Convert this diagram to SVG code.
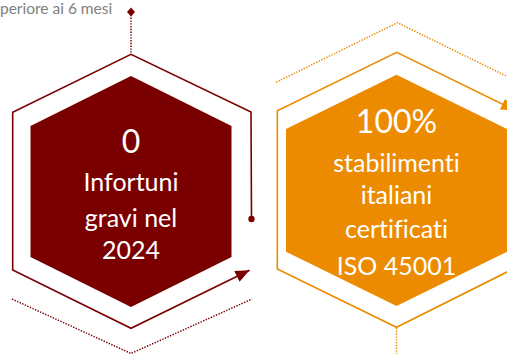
<svg xmlns="http://www.w3.org/2000/svg" width="507" height="354" viewBox="0 0 507 354">
<style>
.red{stroke:#7A0000;fill:none;stroke-width:1.6}
.org{stroke:#ED8B00;fill:none;stroke-width:1.6}
.dot{stroke-dasharray:1.4 1.4;stroke-width:1.5}
.t{font-family:Lato,"Liberation Sans",sans-serif;fill:#fff;text-anchor:middle;font-variant-ligatures:none}
.big{font-size:32px}
.sm{font-size:25px}
.note{font-family:Lato,"Liberation Sans",sans-serif;font-size:15.5px;fill:#808080}
</style>
<defs>
<marker id="ahR" markerUnits="userSpaceOnUse" markerWidth="14" markerHeight="12" viewBox="0 0 14 12" refX="14" refY="6" orient="auto"><path d="M0,0 L14,6 L0,12 z" fill="#7A0000"/></marker>
<marker id="ahO" markerUnits="userSpaceOnUse" markerWidth="14" markerHeight="12" viewBox="0 0 14 12" refX="14" refY="6" orient="auto"><path d="M0,0 L14,6 L0,12 z" fill="#ED8B00"/></marker>
</defs>
<text class="note" x="0" y="14">periore ai 6 mesi</text>
<g id="connectors">
<path class="red dot" d="M131,12 V54"/>
<path d="M131,7.5 L135,12 L131,16.5 L127,12 z" fill="#7A0000"/>
<path class="red" d="M251.5,219 L251,112 L131,54.3 L12.7,112.3 L12.7,270 L131,328.3 L249.5,270.3" marker-end="url(#ahR)"/>
<circle cx="251.5" cy="219" r="3.2" fill="#7A0000"/>
<path class="red dot" d="M12,299 L131,353.5 L252,299"/>
<path class="org" d="M530,260.5 L396.5,327.3 L277.3,269 L277.3,110.7 L396.7,52.3 L515,110.4" marker-end="url(#ahO)"/>
<path class="org dot" d="M276,82.3 L397.5,22.7 L530,87.7"/>
<path class="org dot" d="M396.5,328 V354"/>
</g>
<g id="node-infortuni">
<polygon points="131,76 231.5,126 231.5,257 131,307 30.5,257 30.5,126" fill="#7A0000"/>
<text class="t big" x="131" y="152.7">0</text>
<text class="t sm" x="131" y="191">Infortuni</text>
<text class="t sm" x="131" y="227">gravi nel</text>
<text class="t sm" x="131" y="259">2024</text>
</g>
<g id="node-iso">
<polygon points="396.5,74.7 507,129 507,251.7 396.5,306 286,251.7 286,129" fill="#ED8B00"/>
<text class="t big" x="396.5" y="133.3">100%</text>
<text class="t sm" x="396.5" y="171.7">stabilimenti</text>
<text class="t sm" x="396.5" y="204">italiani</text>
<text class="t sm" x="396.5" y="237.7">certificati</text>
<text class="t sm" x="396.5" y="275">ISO 45001</text>
</g>
</svg>
